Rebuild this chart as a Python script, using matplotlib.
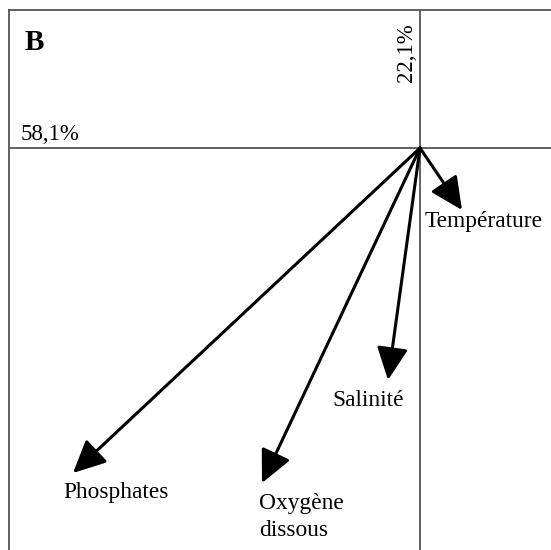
import matplotlib
matplotlib.use("Agg")
import matplotlib.pyplot as plt

# PCA correlation circle: variable loadings on axes 1 and 2
variables = ["Température", "Salinité", "Oxygène\ndissous", "Phosphates"]
axis1 = [0.42, -0.32, -1.58, -3.47]
axis2 = [-0.62, -2.32, -3.35, -3.25]
axis1_label = "58,1%"
axis2_label = "22,1%"
panel = "B"

plt.rcParams["font.family"] = ["Liberation Serif", "DejaVu Serif"]

fig = plt.figure(figsize=(5.51, 5.50), dpi=100)
ax = fig.add_axes([9 / 551, 0, 1 - 9 / 551, 540 / 550])
ax.set_xlim(-4.11, 1.31)
ax.set_ylim(-4.02, 1.38)
for side in ("bottom", "right"):
    ax.spines[side].set_visible(False)
for side in ("left", "top"):
    ax.spines[side].set_color("#555555")
    ax.spines[side].set_linewidth(1.3)
ax.set_xticks([])
ax.set_yticks([])

ax.axhline(0, color="#555555", lw=1.3)
ax.axvline(0, color="#555555", lw=1.3)

for x, y in zip(axis1, axis2):
    ax.annotate("", xy=(x, y), xytext=(0, 0),
                arrowprops=dict(arrowstyle="-|>,head_length=0.5,head_width=0.24",
                                color="black", lw=2.2,
                                mutation_scale=40, shrinkA=0, shrinkB=0))

label_pos = {
    "Température": (0.05, -0.73, "left", "center"),
    "Salinité": (-0.52, -2.52, "center", "center"),
    "Oxygène\ndissous": (-1.61, -3.45, "left", "top"),
    "Phosphates": (-3.57, -3.44, "left", "center"),
}
for name in variables:
    px, py, ha, va = label_pos[name]
    ax.text(px, py, name, ha=ha, va=va, fontsize=16.8, linespacing=1.38)

ax.text(-3.99, 0.03, axis1_label, ha="left", va="bottom", fontsize=16.5)
ax.text(-0.03, 1.25, axis2_label, ha="right", va="top", rotation=90, fontsize=16.5)
ax.text(-3.95, 1.06, panel, ha="left", va="center", fontsize=21, fontweight="bold")

fig.savefig("out.png", dpi=100)
